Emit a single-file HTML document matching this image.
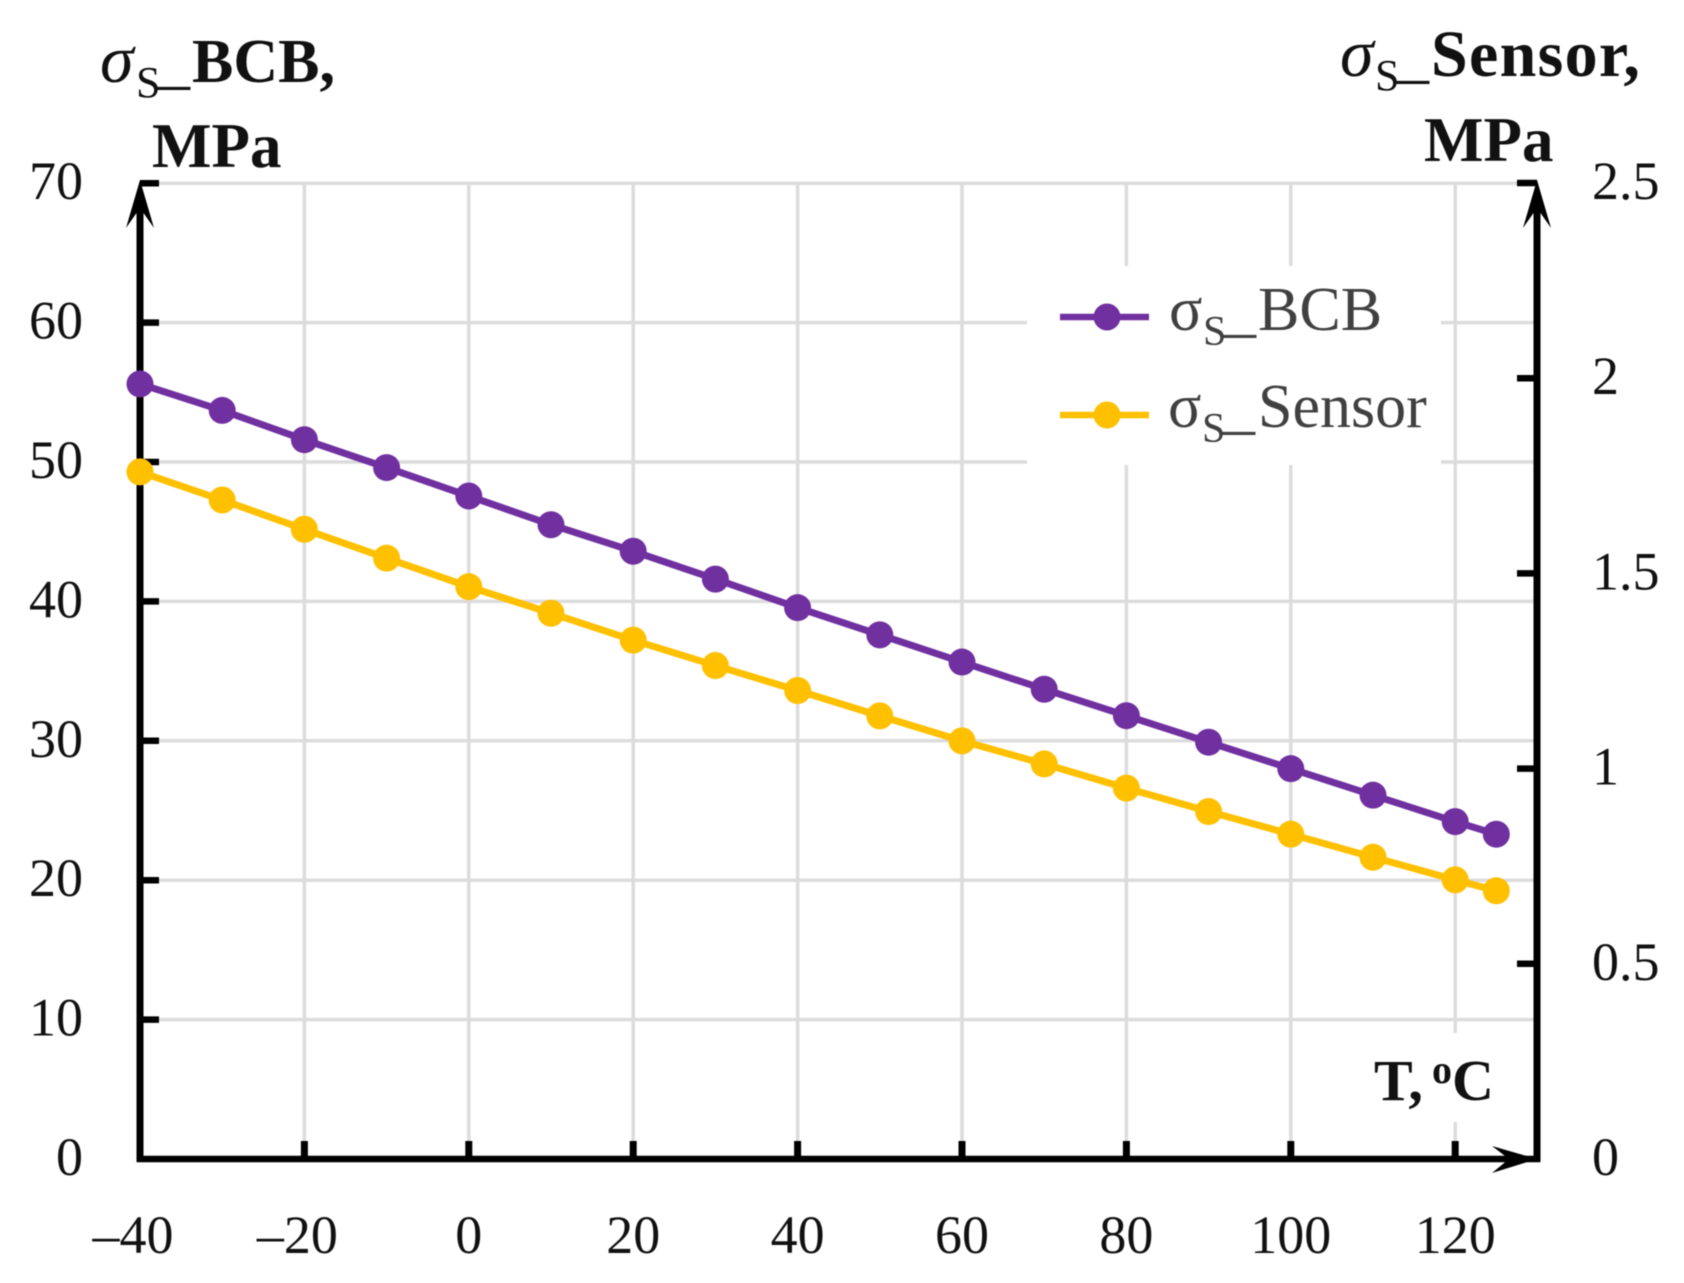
<!DOCTYPE html>
<html lang="en">
<head>
<meta charset="utf-8">
<title>Saturation stress vs temperature</title>
<style>
html,body{margin:0;padding:0;background:#fff;}
svg{display:block;font-family:"Liberation Serif","Times New Roman",serif;filter:blur(0.6px);}
.tick{font-size:54px;fill:#111;}
.title{font-weight:bold;fill:#111;}
.legend-text{fill:#404040;}
</style>
</head>
<body>
<svg id="chart" width="1684" height="1283" viewBox="0 0 1684 1283" xmlns="http://www.w3.org/2000/svg">
  <rect x="0" y="0" width="1684" height="1283" fill="#fff"/>
  <g id="grid"></g>

  <rect x="1027" y="266" width="414" height="199" fill="#fff"/>
  <rect x="1362" y="1033" width="140" height="89" fill="#fff"/>

  <g id="axes">
    <line x1="140" y1="200" x2="140" y2="1162" stroke="#000" stroke-width="7"/>
    <line x1="1537" y1="200" x2="1537" y2="1162" stroke="#000" stroke-width="7"/>
    <line x1="137" y1="1159" x2="1540" y2="1159" stroke="#000" stroke-width="6.5"/>
    <path d="M140 180 L154 228 L140 208 L126 228 Z" fill="#000"/>
    <path d="M1537 180 L1551 228 L1537 208 L1523 228 Z" fill="#000"/>
    <path d="M1537 1159 L1492 1173 L1509 1159 L1492 1146 Z" fill="#000"/>
  </g>
  <g id="ticks"></g>
  <g id="labels"></g>
  <g id="series"></g>

  <text class="title" font-size="62">
    <tspan x="100" y="82" font-style="italic" font-weight="normal" font-size="68">σ</tspan>
    <tspan x="136" y="97" font-weight="normal" font-size="44">S</tspan>
    <tspan x="158" y="82" font-weight="normal" font-size="64">_</tspan>
    <tspan x="192" y="82">BCB,</tspan>
  </text>
  <text class="title" font-size="63" x="152" y="167">MPa</text>

  <text class="title" font-size="66">
    <tspan x="1340" y="76" font-style="italic" font-weight="normal" font-size="68">σ</tspan>
    <tspan x="1375" y="90" font-weight="normal" font-size="44">S</tspan>
    <tspan x="1397" y="76" font-weight="normal" font-size="64">_</tspan>
    <tspan x="1431" y="76" letter-spacing="1.3">Sensor,</tspan>
  </text>
  <text class="title" font-size="63" x="1424" y="161">MPa</text>

  <text class="title" font-size="58">
    <tspan x="1374" y="1100">T,</tspan>
    <tspan x="1432" y="1083" font-size="40">o</tspan>
    <tspan x="1452" y="1100">C</tspan>
  </text>

  <g>
    <g>
      <line x1="1060" y1="317" x2="1149" y2="317" stroke="#7030A0" stroke-width="6.5"/>
      <circle cx="1107" cy="317" r="13.5" fill="#7030A0"/>
      <text class="legend-text" font-size="62">
        <tspan x="1169" y="330" font-size="62">σ</tspan>
        <tspan x="1203" y="345" font-size="42">S</tspan>
        <tspan x="1224" y="330" font-size="64">_</tspan>
        <tspan x="1258" y="330">BCB</tspan>
      </text>
    </g>
    <g>
      <line x1="1060" y1="415" x2="1149" y2="415" stroke="#FFC000" stroke-width="6.5"/>
      <circle cx="1107" cy="415" r="13.5" fill="#FFC000"/>
      <text class="legend-text" font-size="62">
        <tspan x="1168" y="427">σ</tspan>
        <tspan x="1202" y="442" font-size="42">S</tspan>
        <tspan x="1223" y="427" font-size="64">_</tspan>
        <tspan x="1258" y="427">Sensor</tspan>
      </text>
    </g>
  </g>
</svg>
<script>
var temperatures = [-40,-30,-20,-10,0,10,20,30,40,50,60,70,80,90,100,110,120,125];
var bcbValues = [55.6,53.7,51.6,49.6,47.56,45.5,43.6,41.6,39.55,37.6,35.65,33.7,31.8,29.9,28.0,26.1,24.2,23.3];
var sensorValues = [1.76,1.688,1.613,1.539,1.466,1.398,1.329,1.264,1.2,1.135,1.071,1.012,0.95,0.89,0.832,0.773,0.715,0.687];
var xTickValues = [-40,-20,0,20,40,60,80,100,120];
var xTickLabels = ['–40','–20','0','20','40','60','80','100','120'];
var leftTickValues = [0,10,20,30,40,50,60,70];
var leftTickLabels = ['0','10','20','30','40','50','60','70'];
var rightTickValues = [0,0.5,1,1.5,2,2.5];
var rightTickLabels = ['0','0.5','1','1.5','2','2.5'];

var NS = 'http://www.w3.org/2000/svg';
function xScale(t){ return 140 + (t + 40) * 8.22; }
function yLeft(v){ return 1159 - v * 13.94; }
function yRight(v){ return 1159 - v * 390.4; }
function make(tag, attrs, parent){
  var el = document.createElementNS(NS, tag);
  for (var k in attrs) el.setAttribute(k, attrs[k]);
  parent.appendChild(el);
  return el;
}
var grid = document.getElementById('grid');
var ticks = document.getElementById('ticks');
var labels = document.getElementById('labels');
var seriesGroup = document.getElementById('series');

xTickValues.forEach(function(t, i){
  var x = xScale(t);
  if (t !== -40) {
    var g = make('line', {x1:x, y1:183, x2:x, y2:1141, stroke:'#dcdcdc', 'stroke-width':3.5}, grid);
    
    
    var m = make('line', {x1:x, y1:1141, x2:x, y2:1159, stroke:'#000', 'stroke-width':7}, ticks);
    
    
  }
  var lx = t < 0 ? x - 7 : x;
  var l = make('text', {x:lx, y:1253, 'text-anchor':'middle', 'class':'tick'}, labels);
  
  
  l.textContent = xTickLabels[i];
});

leftTickValues.forEach(function(v, i){
  var y = yLeft(v);
  if (v !== 0) {
    var g = make('line', {x1:159, y1:y, x2:1534, y2:y, stroke:'#dcdcdc', 'stroke-width':3.5}, grid);
    
    
    var m = make('line', {x1:140, y1:y, x2:159, y2:y, stroke:'#000', 'stroke-width':6.5}, ticks);
    
    
  }
  var l = make('text', {x:83, y:y + 16, 'text-anchor':'end', 'class':'tick'}, labels);
  
  
  l.textContent = leftTickLabels[i];
});

rightTickValues.forEach(function(v, i){
  var y = yRight(v);
  if (v !== 0) {
    var m = make('line', {x1:1517, y1:y, x2:1537, y2:y, stroke:'#000', 'stroke-width':6.5}, ticks);
    
    
  }
  var l = make('text', {x:1592, y:y + 16, 'text-anchor':'start', 'class':'tick'}, labels);
  
  
  l.textContent = rightTickLabels[i];
});

function drawSeries(values, yFn, color, lineName, pointName){
  var pts = values.map(function(v, i){ return xScale(temperatures[i]) + ',' + yFn(v); }).join(' ');
  var line = make('polyline', {points:pts, fill:'none', stroke:color, 'stroke-width':7, 'stroke-linejoin':'round'}, seriesGroup);
  
  
  values.forEach(function(v, i){
    var c = make('circle', {cx:xScale(temperatures[i]), cy:yFn(v), r:13.5, fill:color}, seriesGroup);
    
    
  });
}
drawSeries(sensorValues, yRight, '#FFC000', 'sensor-line', 'sensor-point');
drawSeries(bcbValues, yLeft, '#7030A0', 'bcb-line', 'bcb-point');
</script>
</body>
</html>
